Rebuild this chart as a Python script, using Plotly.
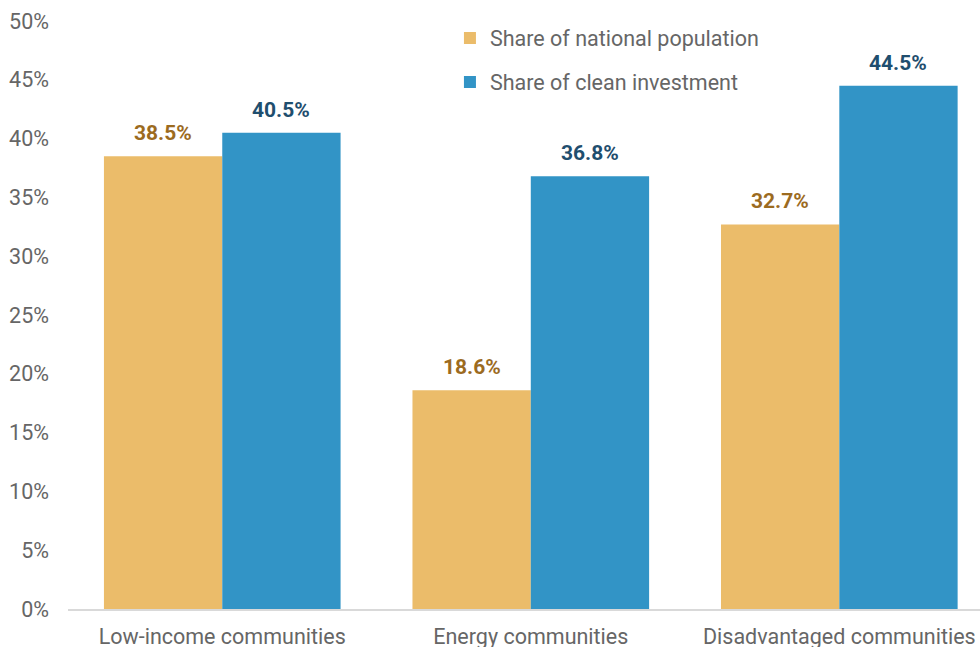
import plotly.graph_objects as go

categories = ["Low-income communities", "Energy communities", "Disadvantaged communities"]
population_share = [38.5, 18.6, 32.7]
investment_share = [40.5, 36.8, 44.5]
y_ticks = [0, 5, 10, 15, 20, 25, 30, 35, 40, 45, 50]
y_tick_labels = [f"{v}%" for v in y_ticks]

ORANGE = "#EBBC6A"
BLUE = "#3294C6"
ORANGE_TEXT = "#9C6B1F"
BLUE_TEXT = "#1F4E6E"
GREY_TEXT = "#666666"
FONT = "Roboto"
TEXT_SIZE = 21.5

fig = go.Figure()
fig.add_trace(go.Bar(
    name="Share of national population", x=categories, y=population_share,
    marker=dict(color=ORANGE, line=dict(width=0)), legendgroup="pop",
))
fig.add_trace(go.Bar(
    name="Share of clean investment", x=categories, y=investment_share,
    marker=dict(color=BLUE, line=dict(width=0)), legendgroup="inv",
))

# value labels above each bar
bargap = 0.233
half = (1 - bargap) / 4
for i, (p, v) in enumerate(zip(population_share, investment_share)):
    fig.add_annotation(x=i - half, y=p, xref="x", yref="y", text=f"<b>{p}%</b>",
                       showarrow=False, yanchor="bottom", yshift=9,
                       font=dict(family=FONT, size=21, color=ORANGE_TEXT))
    fig.add_annotation(x=i + half, y=v, xref="x", yref="y", text=f"<b>{v}%</b>",
                       showarrow=False, yanchor="bottom", yshift=9,
                       font=dict(family=FONT, size=21, color=BLUE_TEXT))

fig.update_layout(
    width=980, height=647,
    margin=dict(l=68, r=0, t=21, b=38),
    paper_bgcolor="white", plot_bgcolor="white",
    barmode="group", bargap=bargap, bargroupgap=0,
    font=dict(family=FONT, size=TEXT_SIZE, color=GREY_TEXT),
    legend=dict(
        x=0.4188, y=1.006, xanchor="left", yanchor="top",
        traceorder="grouped", tracegroupgap=13,
        font=dict(family=FONT, size=TEXT_SIZE, color=GREY_TEXT),
        bgcolor="rgba(0,0,0,0)",
    ),
    xaxis=dict(
        range=[-0.5, 2.456], showgrid=False, showline=True,
        linecolor="#D9D9D9", linewidth=2, ticks="",
        ticklabelstandoff=7, automargin=False,
        tickfont=dict(family=FONT, size=TEXT_SIZE, color=GREY_TEXT),
    ),
    yaxis=dict(
        range=[0, 50], tickvals=y_ticks, ticktext=y_tick_labels,
        showgrid=False, zeroline=False, showline=False, ticks="",
        ticklabelstandoff=18, automargin=False,
        tickfont=dict(family=FONT, size=TEXT_SIZE, color=GREY_TEXT),
    ),
)

fig.write_html("out.html")
